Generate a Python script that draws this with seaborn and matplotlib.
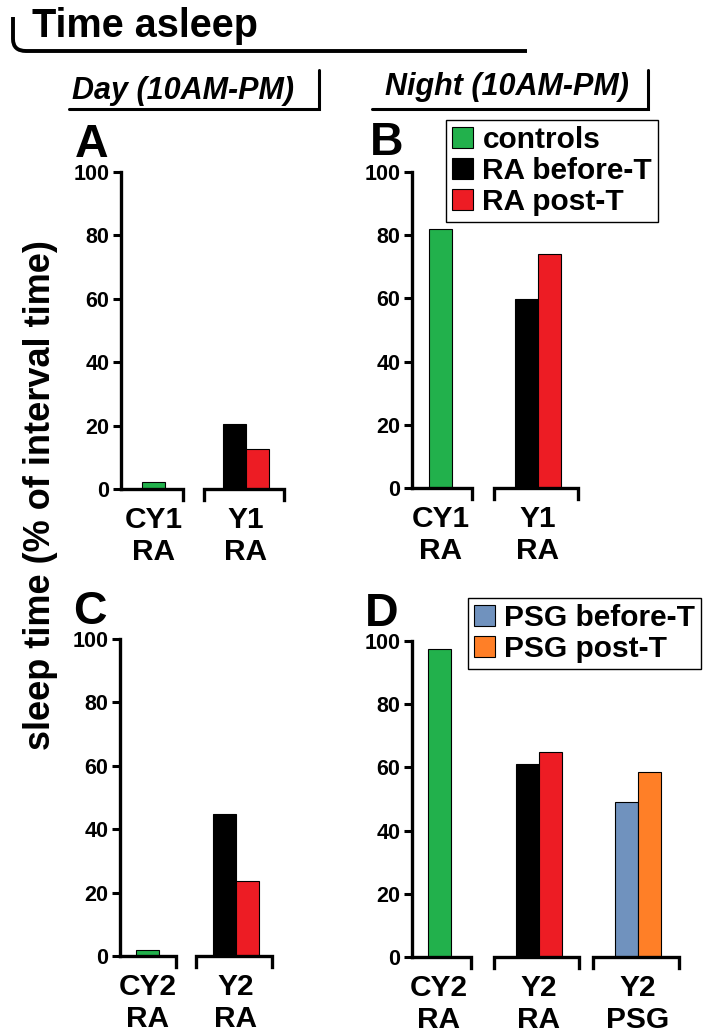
import matplotlib
matplotlib.use("Agg")
import matplotlib.pyplot as plt
from matplotlib.patches import Patch, PathPatch
from matplotlib.path import Path
import pandas as pd
import seaborn as sns

# ---------------------------
# data
# ---------------------------

series_names = ["controls", "RA before-T", "RA post-T", "PSG before-T", "PSG post-T"]
series_colors = ["#22B14C", "#000000", "#ED1C24", "#7092BE", "#FF7F27"]

a_groups = ["CY1\nRA", "Y1\nRA"]
a_bar_group = [0, 1, 1]
a_bar_series = ["controls", "RA before-T", "RA post-T"]
a_bar_values = [2.3, 20.5, 12.6]

b_groups = ["CY1\nRA", "Y1\nRA"]
b_bar_group = [0, 1, 1]
b_bar_series = ["controls", "RA before-T", "RA post-T"]
b_bar_values = [82.1, 59.7, 73.9]

c_groups = ["CY2\nRA", "Y2\nRA"]
c_bar_group = [0, 1, 1]
c_bar_series = ["controls", "RA before-T", "RA post-T"]
c_bar_values = [1.8, 44.7, 23.6]

d_groups = ["CY2\nRA", "Y2\nRA", "Y2\nPSG"]
d_bar_group = [0, 1, 1, 2, 2]
d_bar_series = ["controls", "RA before-T", "RA post-T", "PSG before-T", "PSG post-T"]
d_bar_values = [97.6, 61.0, 64.9, 49.0, 58.7]

y_ticks = [0, 20, 40, 60, 80, 100]

legend_b = ["controls", "RA before-T", "RA post-T"]
legend_d = ["PSG before-T", "PSG post-T"]

# ---------------------------
# style
# ---------------------------

sns.set_style("ticks")
plt.rcParams["font.family"] = ["Liberation Sans", "DejaVu Sans"]
plt.rcParams["font.weight"] = "bold"
for key in ["text.color", "axes.labelcolor", "xtick.color", "ytick.color",
            "axes.edgecolor"]:
    plt.rcParams[key] = "black"

W, H = 711, 1036
BAR_PX = 23
LW = 2.4

palette = dict(zip(series_names, series_colors))

fig = plt.figure(figsize=(W / 100, H / 100), dpi=100)

# overlay in pixel coordinates for headers
over = fig.add_axes([0, 0, 1, 1])
over.set_xlim(0, W)
over.set_ylim(H, 0)
over.set_axis_off()

# ---------------------------
# panels
# ---------------------------

panels = [
    dict(letter="A", lxy=(75, 157), groups=a_groups, grp=a_bar_group,
         ser=a_bar_series, val=a_bar_values,
         axis_x=121, top=172, bottom=489, g0=153.5, step=92.5),
    dict(letter="B", lxy=(370, 155), groups=b_groups, grp=b_bar_group,
         ser=b_bar_series, val=b_bar_values,
         axis_x=412, top=172, bottom=488, g0=440.5, step=97.5),
    dict(letter="C", lxy=(73, 624), groups=c_groups, grp=c_bar_group,
         ser=c_bar_series, val=c_bar_values,
         axis_x=120, top=639, bottom=956, g0=147.7, step=88.3),
    dict(letter="D", lxy=(365, 626), groups=d_groups, grp=d_bar_group,
         ser=d_bar_series, val=d_bar_values,
         axis_x=412, top=641, bottom=957, g0=439, step=99.5),
]

for p in panels:
    ng = len(p["groups"])
    xmin = -(p["g0"] - p["axis_x"]) / p["step"]
    xmax = ng - 0.5
    width_px = (xmax - xmin) * p["step"]
    height_px = p["bottom"] - p["top"]

    ax = fig.add_axes([
        p["axis_x"] / W,
        1 - p["bottom"] / H,
        width_px / W,
        height_px / H,
    ])

    df = pd.DataFrame({
        "grp": p["grp"],
        "series": p["ser"],
        "value": p["val"],
    })
    bw = BAR_PX / p["step"]
    df["slot"] = df.groupby("grp").cumcount()
    df["n"] = df.groupby("grp")["grp"].transform("size")
    df["x"] = df["grp"] + (df["slot"] - (df["n"] - 1) / 2) * bw

    sns.barplot(
        data=df, x="x", y="value", hue="series", palette=palette,
        native_scale=True, dodge=False, width=1.0, errorbar=None,
        saturation=1, edgecolor="black", linewidth=0.8, legend=False, ax=ax
    )

    ax.set_xlim(xmin, xmax)
    ax.set_ylim(0, 100)
    ax.set_xlabel("")
    ax.set_ylabel("")
    ax.set_yticks(y_ticks)
    ax.set_xticks(range(ng))
    ax.set_xticklabels(p["groups"])
    for lbl in ax.get_xticklabels():
        lbl.set_linespacing(1.2)

    for side in ["top", "right", "bottom"]:
        ax.spines[side].set_visible(False)
    ax.spines["left"].set_linewidth(LW)

    ax.tick_params(axis="y", labelsize=15.5, width=2.2, length=5.8, pad=2.5)
    ax.tick_params(axis="x", labelsize=21.5, length=0, pad=12)

    # group brackets under the bars
    drop = 11 / (height_px / 100)
    for i in range(ng):
        if i == 0:
            xs = [xmin, i + 0.32, i + 0.32]
            ys = [0, 0, -drop]
        else:
            xs = [i - 0.45, i - 0.45, i + 0.41, i + 0.41]
            ys = [-drop, 0, 0, -drop]
        ax.plot(xs, ys, color="black", lw=LW, clip_on=False,
                solid_joinstyle="miter", solid_capstyle="projecting")

    over.text(p["lxy"][0], p["lxy"][1], p["letter"], fontsize=33.5,
              fontweight="bold", ha="left", va="baseline")

# ---------------------------
# legends
# ---------------------------

def add_legend(names, x, y):
    handles = [Patch(facecolor=palette[n], edgecolor="black", linewidth=0.8,
                     label=n) for n in names]
    leg = fig.legend(
        handles=handles, loc="upper left",
        bbox_to_anchor=(x / W, 1 - y / H), bbox_transform=fig.transFigure,
        frameon=True, fancybox=False, edgecolor="black", framealpha=1,
        prop=dict(size=21.5, weight="bold"), handlelength=0.7,
        handleheight=0.7, handletextpad=0.32, labelspacing=0.1,
        borderpad=0.2, borderaxespad=0,
    )
    leg.get_frame().set_linewidth(1.0)


add_legend(legend_b, 446, 120)
add_legend(legend_d, 468, 598)

# ---------------------------
# headers
# ---------------------------

verts = [(13, 17), (13, 39), (13, 51), (26, 51), (527, 51)]
codes = [Path.MOVETO, Path.LINETO, Path.CURVE3, Path.CURVE3, Path.LINETO]
over.add_patch(PathPatch(Path(verts, codes), fill=False, lw=2.8,
                         edgecolor="black", capstyle="butt"))
over.text(32, 37, "Time asleep", fontsize=28.5, fontweight="bold",
          ha="left", va="baseline")

over.plot([69, 319, 319], [109, 109, 70], color="black", lw=2.2,
          solid_joinstyle="miter")
over.text(72, 99, "Day (10AM-PM)", fontsize=22, fontweight="bold",
          fontstyle="italic", ha="left", va="baseline")

over.plot([372, 648, 648], [109, 109, 70], color="black", lw=2.2,
          solid_joinstyle="miter")
over.text(385, 95, "Night (10AM-PM)", fontsize=22, fontweight="bold",
          fontstyle="italic", ha="left", va="baseline")

over.text(50, 495, "sleep time (% of interval time)", fontsize=26,
          fontweight="bold", rotation=90, rotation_mode="anchor",
          ha="center", va="baseline")

fig.savefig("out.png", dpi=100)
